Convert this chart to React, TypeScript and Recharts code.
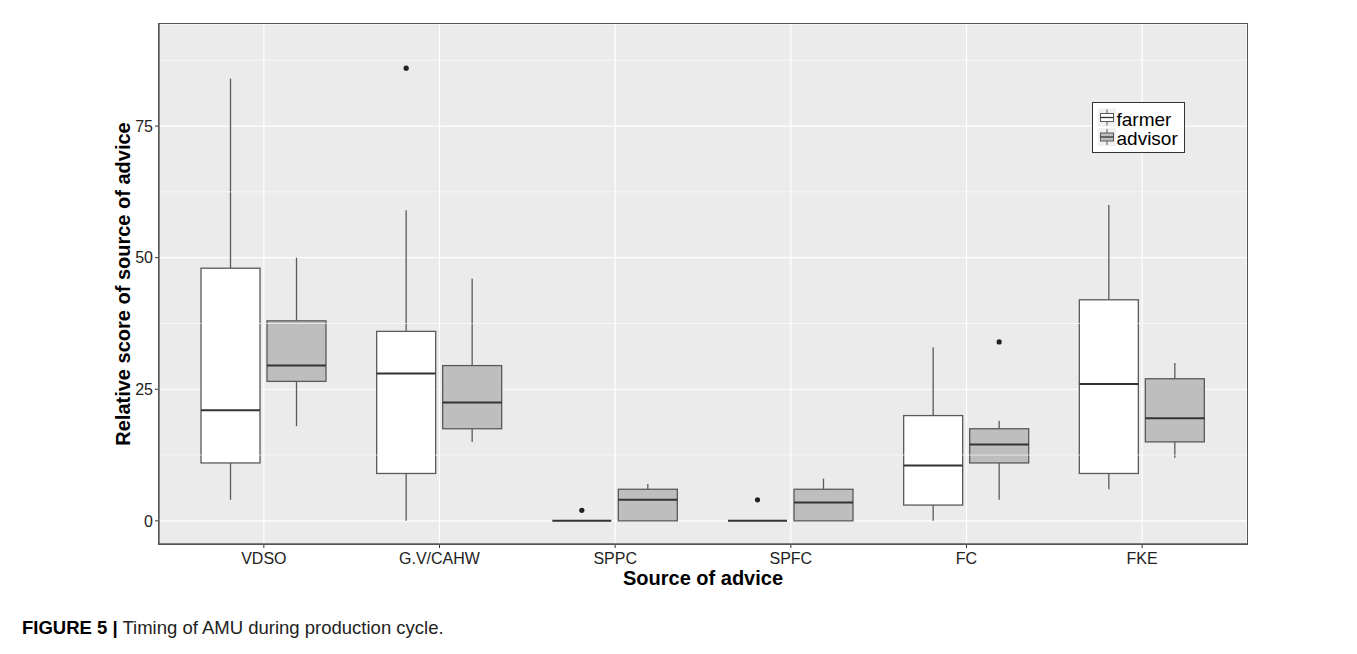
import React from 'react';
import { ComposedChart, Bar, XAxis, YAxis, CartesianGrid, ReferenceLine, Legend } from 'recharts';

const categories = ['VDSO', 'G.V/CAHW', 'SPPC', 'SPFC', 'FC', 'FKE'];

const farmerMin = [4, 0, 0, 0, 0, 6];
const farmerQ1 = [11, 9, 0, 0, 3, 9];
const farmerMedian = [21, 28, 0, 0, 10.5, 26];
const farmerQ3 = [48, 36, 0, 0, 20, 42];
const farmerMax = [84, 59, 0, 0, 33, 60];
const farmerOutliers: number[][] = [[], [86], [2], [4], [], []];

const advisorMin = [18, 15, 0, 0, 4, 12];
const advisorQ1 = [26.5, 17.5, 0, 0, 11, 15];
const advisorMedian = [29.5, 22.5, 4, 3.5, 14.5, 19.5];
const advisorQ3 = [38, 29.5, 6, 6, 17.5, 27];
const advisorMax = [50, 46, 7, 8, 19, 30];
const advisorOutliers: number[][] = [[], [], [], [], [34], []];

const yTicks = [0, 25, 50, 75];
const yMinorGrid = [12.5, 37.5, 62.5, 87.5];
const yDomain: [number, number] = [-4.4, 94.4];

const seriesNames = ['farmer', 'advisor'];
const seriesFills = ['#ffffff', '#bebebe'];

type Stats = { min: number; q1: number; med: number; q3: number; max: number; out: number[] };

const mk = (mn: number[], q1: number[], md: number[], q3: number[], mx: number[], out: number[][], i: number): Stats => ({
  min: mn[i], q1: q1[i], med: md[i], q3: q3[i], max: mx[i], out: out[i],
});

const data = categories.map((cat, i) => {
  const farmer = mk(farmerMin, farmerQ1, farmerMedian, farmerQ3, farmerMax, farmerOutliers, i);
  const advisor = mk(advisorMin, advisorQ1, advisorMedian, advisorQ3, advisorMax, advisorOutliers, i);
  return {
    cat,
    farmer,
    advisor,
    farmerRange: [Math.min(farmer.min, ...farmer.out), Math.max(farmer.max, ...farmer.out)],
    advisorRange: [Math.min(advisor.min, ...advisor.out), Math.max(advisor.max, ...advisor.out)],
  };
});

const LINE = '#5a5a5a';
const MED = '#333333';

const makeBoxShape = (key: 'farmer' | 'advisor', fill: string) => (props: any) => {
  const { x, y, width, height, payload } = props;
  if (!payload) return <g />;
  const s: Stats = payload[key];
  const [lo, hi] = payload[key + 'Range'];
  const top = Math.min(y, y + height);
  const bottom = Math.max(y, y + height);
  const py = (v: number) => (hi === lo ? bottom : bottom - ((v - lo) / (hi - lo)) * (bottom - top));
  const cx = x + width / 2;
  return (
    <g>
      <line x1={cx} x2={cx} y1={py(s.max)} y2={py(s.q3)} stroke={LINE} strokeWidth={1.3} />
      <line x1={cx} x2={cx} y1={py(s.q1)} y2={py(s.min)} stroke={LINE} strokeWidth={1.3} />
      <rect x={x} y={py(s.q3)} width={width} height={Math.max(0, py(s.q1) - py(s.q3))} fill={fill} stroke={LINE} strokeWidth={1.3} />
      <line x1={x} x2={x + width} y1={py(s.med)} y2={py(s.med)} stroke={MED} strokeWidth={2} />
      {s.out.map((o, j) => (
        <circle key={j} cx={cx} cy={py(o)} r={2.6} fill="#222" />
      ))}
    </g>
  );
};

const YTitle = (props: any) => {
  const vb = props.viewBox || { x: 0, y: 24, width: 159, height: 520 };
  const x = vb.x + 130;
  const y = vb.y + vb.height / 2;
  return (
    <text x={x} y={y} transform={`rotate(-90, ${x}, ${y})`} textAnchor="middle" fontSize={20} fontWeight="bold" fill="#000">
      Relative score of source of advice
    </text>
  );
};

const XTitle = (props: any) => {
  const vb = props.viewBox || { x: 159, y: 544, width: 1088, height: 110 };
  return (
    <text x={vb.x + vb.width / 2} y={vb.y + 40.5} textAnchor="middle" fontSize={20} fontWeight="bold" fill="#000">
      Source of advice
    </text>
  );
};

const LegendContent = () => (
  <svg width={93} height={51} style={{ display: 'block' }}>
    <rect x={0.5} y={0.5} width={92} height={50} fill="#fff" stroke="#333" strokeWidth={1} />
    {seriesNames.map((name, i) => (
      <g key={name} transform={`translate(6, ${6.5 + i * 19.5})`}>
        <rect x={0} y={0} width={18} height={18} fill="#f0f0f0" />
        <line x1={9} x2={9} y1={1} y2={17} stroke={LINE} strokeWidth={1} />
        <rect x={2.5} y={5} width={13} height={8} fill={seriesFills[i]} stroke={LINE} strokeWidth={1} />
        <line x1={2.5} x2={15.5} y1={9} y2={9} stroke={MED} strokeWidth={1.3} />
        <text x={18.5} y={17.3} fontSize={19} fill="#000">
          {name}
        </text>
      </g>
    ))}
  </svg>
);

export default function App() {
  return (
    <div
      style={{
        position: 'relative',
        margin: -8,
        width: 1357,
        height: 654,
        overflow: 'hidden',
        background: '#fff',
        fontFamily: '"Liberation Sans", Arial, sans-serif',
      }}
    >
      <div style={{ position: 'absolute', left: 0, top: 0 }}>
        <ComposedChart
          width={1357}
          height={654}
          data={data}
          margin={{ top: 24, right: 110, bottom: 0, left: 0 }}
          barCategoryGap={25}
          barGap={7}
        >
          <CartesianGrid fill="#ebebeb" stroke="#ffffff" strokeWidth={1.2} />
          {yMinorGrid.map((v) => (
            <ReferenceLine key={v} y={v} stroke="#ffffff" strokeWidth={0.6} />
          ))}
          <XAxis
            dataKey="cat"
            type="category"
            padding={{ left: 17, right: 17 }}
            height={110}
            interval={0}
            tickSize={4}
            tickMargin={5}
            tick={{ fontSize: 16, fill: '#222' }}
            tickLine={{ stroke: '#333' }}
            axisLine={{ stroke: '#555', strokeWidth: 1.4 }}
            label={{ content: XTitle }}
          />
          <YAxis
            type="number"
            domain={yDomain}
            ticks={yTicks}
            allowDataOverflow
            width={159}
            tickSize={4}
            tickMargin={2}
            tick={{ fontSize: 16, fill: '#222' }}
            tickLine={{ stroke: '#333' }}
            axisLine={{ stroke: '#555', strokeWidth: 1.4 }}
            label={{ content: YTitle }}
          />
          <Legend
            layout="vertical"
            align="center"
            verticalAlign="middle"
            content={LegendContent}
            wrapperStyle={{ position: 'absolute', left: 1092, top: 102, width: 93, height: 51 }}
          />
          <Bar dataKey="farmerRange" name="farmer" fill="#fff" isAnimationActive={false} shape={makeBoxShape('farmer', seriesFills[0])} />
          <Bar dataKey="advisorRange" name="advisor" fill="#bebebe" isAnimationActive={false} shape={makeBoxShape('advisor', seriesFills[1])} />
        </ComposedChart>
      </div>
      {/* panel border (ggplot panel.border) */}
      <div
        style={{
          position: 'absolute',
          left: 158.3,
          top: 23.3,
          width: 1089.4,
          height: 521.4,
          border: '1.4px solid #555',
          boxSizing: 'border-box',
          pointerEvents: 'none',
        }}
      />
      {/* outer figure frame (left, top, right edges) */}
      <svg
        width={1357}
        height={654}
        style={{ position: 'absolute', left: 0, top: 0, zIndex: 10, pointerEvents: 'none' }}
      >
        <polyline points="7,660 7,7 1355,7 1355,660" fill="none" stroke="#5f5f5f" strokeWidth={2} />
      </svg>
      <div
        style={{
          position: 'absolute',
          left: 22,
          top: 619.4,
          fontSize: 18.5,
          lineHeight: '18.5px',
          color: '#222',
          whiteSpace: 'nowrap',
        }}
      >
        <b style={{ color: '#000' }}>FIGURE 5 |</b> Timing of AMU during production cycle.
      </div>
    </div>
  );
}
